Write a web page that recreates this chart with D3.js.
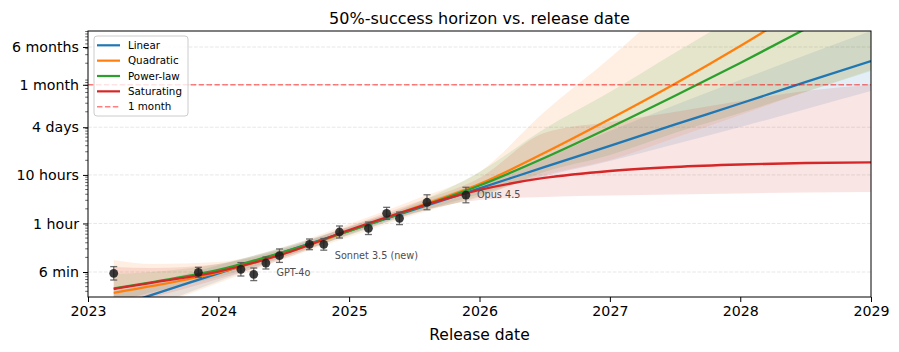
<!DOCTYPE html>
<html>
<head>
<meta charset="utf-8">
<script src="https://cdn.jsdelivr.net/npm/d3@7"></script>
<style>
  body { margin: 0; background: #fff; }
  svg { font-family: "DejaVu Sans", sans-serif; }
</style>
</head>
<body>
<div id="chart"></div>
<script>
// Model release dates and measured 50% horizons (minutes) with CI
const releaseDates = ["2023-03-14", "2023-11-06", "2024-03-04", "2024-04-09", "2024-05-13", "2024-06-20", "2024-09-12",
    "2024-10-22", "2024-12-05", "2025-02-24", "2025-04-16", "2025-05-22", "2025-08-07", "2025-11-24"];
const modelNames = ["GPT-4", "GPT-4 Turbo", "Claude 3 Opus", "GPT-4 Turbo (Apr)", "GPT-4o", "Claude 3.5 Sonnet", "o1-preview",
    "Sonnet 3.5 (new)", "o1", "Claude 3.7 Sonnet", "o3", "Claude 4 Opus", "GPT-5", "Opus 4.5"];
const horizonMin = [5.64, 5.91, 6.82, 5.38, 9.19, 13.0, 22.3, 22.3, 40.0, 47.7, 97, 76.6, 164, 231];
const ciLow = [4.1, 4.66, 4.96, 3.99, 6.92, 9.46, 17.3, 16.9, 30.1, 35.5, 73.0, 56.8, 115, 160];
const ciHigh = [7.75, 7.49, 9.37, 7.25, 12.2, 17.9, 28.7, 29.4, 53.2, 64.0, 129, 103, 234, 334];
const labelledModels = ["GPT-4o", "Sonnet 3.5 (new)", "Opus 4.5"];

// Fitted curves, sampled (minutes)
const fitDates = ["2023-03-14", "2023-07-01", "2024-01-01", "2024-07-01", "2025-01-01", "2025-07-01", "2026-01-01",
    "2026-07-01", "2027-01-01", "2027-07-01", "2028-01-01", "2028-07-01", "2029-01-01"];
const linearMid = [1.12, 2.05, 5.64, 15.4, 42.2, 116, 317, 865, 2380, 6500, 17750, 48800, 133400];
const linearLo = [0.524, 1.16, 3.86, 12.1, 34.9, 95.9, 244, 565, 1168, 2578, 5822, 13560, 32140];
const linearHi = [2.39, 3.62, 8.25, 19.5, 51.0, 140, 411, 1325, 4848, 16390, 54120, 175600, 553600];
const quadMid = [2.22, 3.09, 5.86, 14.4, 42.0, 125, 390, 1697, 8510, 44800, 271700, 1812000, 13290000];
const quadLo = [0.99, 1.25, 3.56, 11.1, 31.6, 89.6, 221, 598, 1218, 3458, 10300, 30650, 87000];
const quadHi = [10.6, 8.77, 9.64, 19.6, 58.5, 183, 689, 11870, 153800, 2409000, 41480000, 714000000, 12300000000];
const powMid = [2.74, 3.73, 6.60, 15.5, 42.0, 119, 363, 1339, 5690, 25350, 121300, 608600, 3202000];
const powLo = [1.45, 2.32, 4.73, 12.2, 34.7, 98.5, 211, 689, 1544, 4383, 11320, 30650, 83000];
const powHi = [5.46, 6, 8.77, 18.7, 50.7, 151, 689, 5300, 30650, 195000, 1240000, 7880000, 50200000];
const satMid = [2.68, 3.63, 6.14, 14.1, 44.0, 122, 294, 519, 723, 874, 983, 1056, 1092];
const satLo = [1.25, 1.83, 4.31, 11.1, 36.4, 98.5, 183, 211, 226, 237, 249, 261, 267];
const satHi = [7.6, 7.25, 8.77, 17.9, 53.2, 158, 519, 4383, 7390, 11870, 20000, 32140, 42700];

const fitNames = ["Linear", "Quadratic", "Power-law", "Saturating"];
const fitColors = ["#1f77b4", "#ff7f0e", "#2ca02c", "#d62728"];

// Y axis ticks (minutes)
const yTickValues = [6, 60, 600, 5760, 43200, 259200];
const yTickLabels = ["6 min", "1 hour", "10 hours", "4 days", "1 month", "6 months"];
const oneMonth = 43200;
const xYears = [2023, 2024, 2025, 2026, 2027, 2028, 2029];

const W = 899, H = 352;
const margin = {top: 31, right: 28, bottom: 55, left: 88};
const width = W - margin.left - margin.right;
const height = H - margin.top - margin.bottom;
const parse = d3.timeParse("%Y-%m-%d");

const svg = d3.select("#chart").append("svg")
    .attr("width", W).attr("height", H);

svg.append("defs").append("clipPath").attr("id", "plot-clip")
    .append("rect").attr("width", width).attr("height", height);

const g = svg.append("g").attr("transform", `translate(${margin.left},${margin.top})`);

const x = d3.scaleTime()
    .domain([new Date(2023, 0, 1), new Date(2029, 0, 1)])
    .range([0, width]);
const y = d3.scaleLog()
    .domain([1.833, 553600])
    .range([height, 0]);

// grid
g.append("g").selectAll("line")
    .data(yTickValues)
    .enter().append("line")
        .attr("x1", 0).attr("x2", width)
        .attr("y1", d => y(d)).attr("y2", d => y(d))
        .attr("stroke", "#b0b0b0").attr("stroke-opacity", 0.3)
        .attr("stroke-dasharray", "3.7,1.6");

const plot = g.append("g").attr("clip-path", "url(#plot-clip)");

const fits = [
    {mid: linearMid, lo: linearLo, hi: linearHi},
    {mid: quadMid, lo: quadLo, hi: quadHi},
    {mid: powMid, lo: powLo, hi: powHi},
    {mid: satMid, lo: satLo, hi: satHi}
];
const dates = fitDates.map(parse);

const area = d3.area()
    .x(d => x(d.date))
    .y0(d => y(d.lo))
    .y1(d => y(d.hi))
    .curve(d3.curveMonotoneX);
const line = d3.line()
    .x(d => x(d.date))
    .y(d => y(d.v))
    .curve(d3.curveMonotoneX);

fits.forEach((f, i) => {
    const rows = dates.map((date, j) => ({date, lo: f.lo[j], hi: f.hi[j]}));
    plot.append("path")
        .attr("d", area(rows))
        .attr("fill", fitColors[i])
        .attr("fill-opacity", 0.12);
});
fits.forEach((f, i) => {
    const rows = dates.map((date, j) => ({date, v: f.mid[j]}));
    plot.append("path")
        .attr("d", line(rows))
        .attr("fill", "none")
        .attr("stroke", fitColors[i])
        .attr("stroke-width", 2.3);
});

// 1 month reference
plot.append("line")
    .attr("x1", 0).attr("x2", width)
    .attr("y1", y(oneMonth)).attr("y2", y(oneMonth))
    .attr("stroke", "red").attr("stroke-opacity", 0.5)
    .attr("stroke-width", 1.5)
    .attr("stroke-dasharray", "5.5,2.4");

// data points with error bars
const points = releaseDates.map((d, i) => ({
    date: parse(d), name: modelNames[i], v: horizonMin[i], lo: ciLow[i], hi: ciHigh[i]
}));
const pts = plot.append("g").selectAll("g")
    .data(points)
    .enter().append("g");
pts.append("line")
    .attr("x1", d => x(d.date)).attr("x2", d => x(d.date))
    .attr("y1", d => y(d.lo)).attr("y2", d => y(d.hi))
    .attr("stroke", "#555").attr("stroke-opacity", 0.85).attr("stroke-width", 1.3);
[d => y(d.lo), d => y(d.hi)].forEach(fy => {
    pts.append("line")
        .attr("x1", d => x(d.date) - 3.5).attr("x2", d => x(d.date) + 3.5)
        .attr("y1", fy).attr("y2", fy)
        .attr("stroke", "#555").attr("stroke-opacity", 0.85).attr("stroke-width", 1.3);
});
pts.append("circle")
    .attr("cx", d => x(d.date)).attr("cy", d => y(d.v))
    .attr("r", 4.4)
    .attr("fill", "#1a1a1a").attr("fill-opacity", 0.85);

// annotations
const labelOffsets = {"GPT-4o": [10.5, 10], "Sonnet 3.5 (new)": [11, 11], "Opus 4.5": [11, 0]};
g.append("g").selectAll("text")
    .data(points.filter(d => labelledModels.includes(d.name)))
    .enter().append("text")
        .attr("x", d => x(d.date) + labelOffsets[d.name][0])
        .attr("y", d => y(d.v) + labelOffsets[d.name][1])
        .attr("dy", "0.35em")
        .attr("font-size", 9.7)
        .attr("fill", "#4d4d4d")
        .text(d => d.name);

// axes
const xAxis = d3.axisBottom(x)
    .tickValues(xYears.map(yr => new Date(yr, 0, 1)))
    .tickFormat(d3.timeFormat("%Y"))
    .tickSize(5).tickPadding(4);
const xg = g.append("g").attr("transform", `translate(0,${height})`).call(xAxis);
xg.select(".domain").remove();
xg.selectAll("text").attr("font-size", 14.2).attr("fill", "#000").attr("font-family", "DejaVu Sans");

// minor y ticks at k*10^n hours
const minorTicks = [];
for (let n = -2; n <= 4; n++) {
    for (let k = 2; k <= 9; k++) {
        const v = k * Math.pow(10, n) * 60;
        if (v > y.domain()[0] && v < y.domain()[1]) minorTicks.push(v);
    }
}
g.append("g").selectAll("line")
    .data(minorTicks)
    .enter().append("line")
        .attr("x1", -2.8).attr("x2", 0)
        .attr("y1", d => y(d)).attr("y2", d => y(d))
        .attr("stroke", "#000").attr("stroke-width", 0.6);

const yAxis = d3.axisLeft(y)
    .tickValues(yTickValues)
    .tickFormat((d, i) => yTickLabels[i])
    .tickSize(5).tickPadding(4);
const yg = g.append("g").call(yAxis);
yg.select(".domain").remove();
yg.selectAll("text").attr("font-size", 14.2).attr("fill", "#000").attr("font-family", "DejaVu Sans");

// frame
g.append("rect")
    .attr("width", width).attr("height", height)
    .attr("fill", "none").attr("stroke", "#000").attr("stroke-width", 1);

// title and label
svg.append("text")
    .attr("x", margin.left + width / 2).attr("y", 24)
    .attr("text-anchor", "middle")
    .attr("font-size", 16)
    .text("50%-success horizon vs. release date");
svg.append("text")
    .attr("x", margin.left + width / 2).attr("y", 340)
    .attr("text-anchor", "middle")
    .attr("font-size", 15.5)
    .text("Release date");

// legend
const legend = g.append("g").attr("transform", "translate(6,5)");
legend.append("rect")
    .attr("width", 94).attr("height", 80).attr("rx", 3)
    .attr("fill", "#fff").attr("fill-opacity", 0.8)
    .attr("stroke", "#ccc").attr("stroke-width", 1);
const legendItems = fitNames.map((n, i) => ({name: n, color: fitColors[i], dashed: false}))
    .concat([{name: "1 month", color: "red", dashed: true}]);
const li = legend.selectAll("g.item")
    .data(legendItems)
    .enter().append("g")
        .attr("transform", (d, i) => `translate(0,${9.3 + i * 15.35})`);
li.append("line")
    .attr("x1", 3).attr("x2", 26)
    .attr("stroke", d => d.color)
    .attr("stroke-opacity", d => d.dashed ? 0.5 : 1)
    .attr("stroke-width", d => d.dashed ? 1.5 : 2.2)
    .attr("stroke-dasharray", d => d.dashed ? "5.5,2.4" : null);
li.append("text")
    .attr("x", 34).attr("dy", "0.35em")
    .attr("font-size", 10.3)
    .text(d => d.name);
</script>
</body>
</html>
